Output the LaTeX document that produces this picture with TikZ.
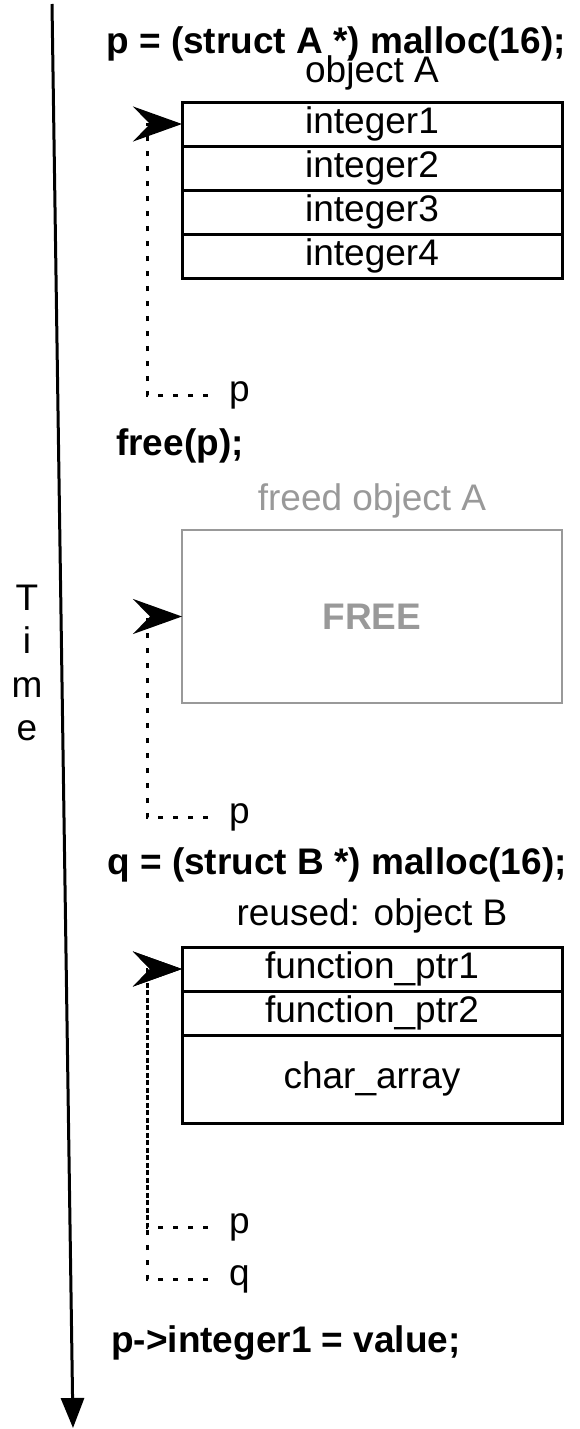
\documentclass[tikz,border=0pt]{standalone}
\usepackage{fontspec}
\setmainfont{Liberation Sans}
\usepackage{tikz}
\usetikzlibrary{arrows.meta,positioning}
\definecolor{freedgray}{HTML}{999999}

\begin{document}
\begin{tikzpicture}[
    x=1pt, y=-1pt,
    every node/.style={font=\fontsize{37}{44}\selectfont},
    code/.style={font=\fontsize{37}{44}\selectfont\bfseries, anchor=base, inner sep=0pt},
    lbl/.style={anchor=base, inner sep=0pt},
    field/.style={draw, line width=3pt, outer sep=0pt, inner sep=0pt,
                  minimum width=380pt, minimum height=44pt},
    freebox/.style={draw=freedgray, line width=2.5pt, outer sep=0pt, text=freedgray,
                    minimum width=380pt, minimum height=173pt,
                    font=\fontsize{37}{44}\selectfont\bfseries},
    var/.style={anchor=west, inner xsep=21pt, inner ysep=0pt},
    ptr/.style={line width=3pt, dash pattern=on 5pt off 10pt,
                -{Stealth[length=49pt, width=35pt, inset=17pt]}},
    timeline/.style={line width=3pt, -{Triangle[length=30pt, width=23pt]}}
  ]
  \useasboundingbox (0,0) rectangle (580,1429);

  % time axis
  \coordinate (t0) at (52,4);
  \coordinate (t1) at (73,1428);
  \draw[timeline] (t0) -- (t1);
  \foreach \ch [count=\i] in {T,i,m,e}
    \node[lbl] (time\i) at (27, {610+43.5*(\i-1)}) {\ch};

  % allocation of object A
  \node[code] (allocA) at (336,54) {p = (struct A *) malloc(16);};
  \node[lbl] (objA) at (372,82) {object A};
  \node[field] (i1) at (372,124) {integer1};
  \node[field, below=0pt of i1] (i2) {integer2};
  \node[field, below=0pt of i2] (i3) {integer3};
  \node[field, below=0pt of i3] (i4) {integer4};
  \node[var] (pa) at (208,395) {p};
  \draw[ptr] (pa.west) -- ++(-61,0) |- (i1.west);

  % after free
  \node[code] (freep) at (180,455) {free(p);};
  \node[lbl, text=freedgray] (objFreed) at (372,510) {freed object A};
  \node[freebox] (fr) at (372,616.5) {FREE};
  \node[var] (pb) at (208,817) {p};
  \draw[ptr] (pb.west) -- ++(-61,0) |- (fr.west);

  % reuse as object B
  \node[code] (allocB) at (337,874) {q = (struct B *) malloc(16);};
  \node[lbl] (objB) at (372,925) {reused: object B};
  \node[field] (f1) at (372,969) {function\_ptr1};
  \node[field, below=0pt of f1] (f2) {function\_ptr2};
  \node[field, below=0pt of f2, minimum height=88pt] (ca) {char\_array};
  \node[var] (pc) at (208,1227) {p};
  \node[var] (qc) at (208,1279) {q};
  \draw[ptr] (pc.west) -- ++(-61,0) |- (f1.west);
  \draw[ptr] (qc.west) -- ++(-61,0) |- (f1.west);

  \node[code] (use) at (286,1352) {p->integer1 = value;};
\end{tikzpicture}
\end{document}
